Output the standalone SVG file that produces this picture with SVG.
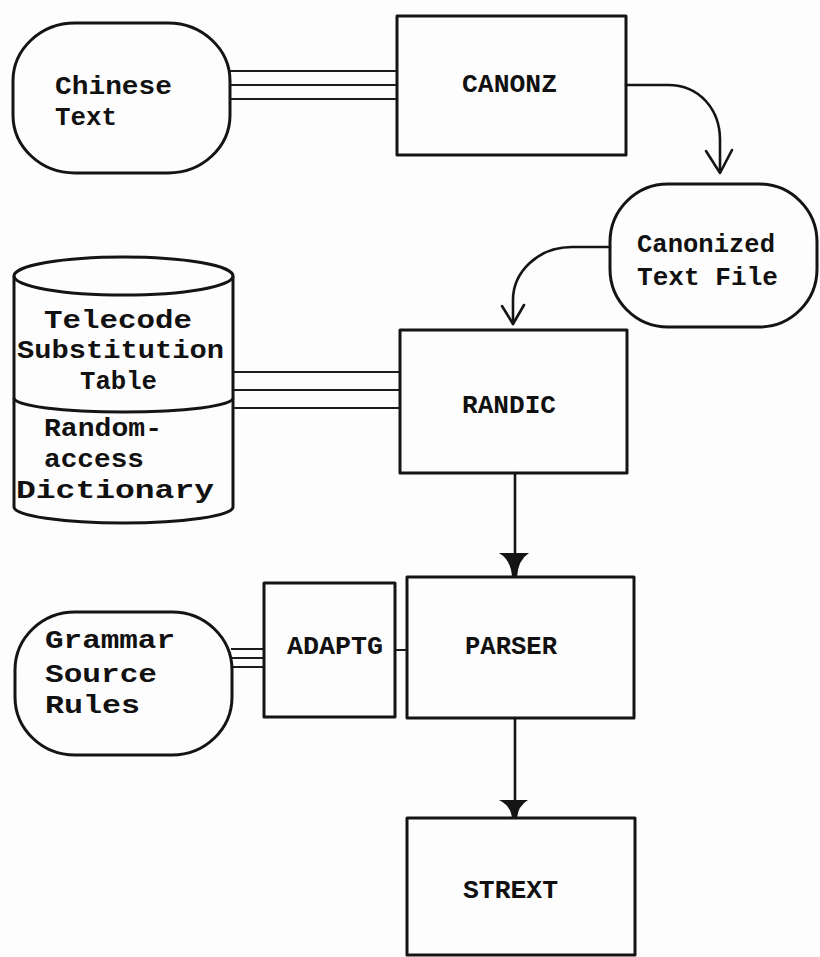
<svg xmlns="http://www.w3.org/2000/svg" width="820" height="957" viewBox="0 0 820 957">
<style>
.bx{fill:none;stroke:#141414;stroke-width:3;stroke-linejoin:round}
.ln{fill:none;stroke:#1c1c1c;stroke-width:2}
.ar{fill:none;stroke:#141414;stroke-width:2.6;stroke-linecap:round;stroke-linejoin:round}
.hd{fill:#141414;stroke:none}
.t{font-family:"Liberation Mono","DejaVu Sans Mono",monospace;font-weight:bold;font-size:26px;fill:#111}
</style>
<rect width="820" height="957" fill="#fdfdfd"/>
<g id="connectors">
  <path class="ln" d="M230,71 H397 M230,85 H397 M230,99 H397"/>
  <path class="ln" d="M233,372 H400 M233,390 H400 M233,408 H400"/>
  <path class="ln" d="M231,649 H264 M231,658 H264 M231,667 H264"/>
  <path class="ln" d="M395,650 H407"/>
  <path class="ar" d="M626,85 L668,85 C700,85 720,110 720,140 L720,172"/>
  <path class="ar" d="M706,151 L720,173 L732,150"/>
  <path class="ar" d="M610,247 L572,247 C538,247 513,272 513,300 L513,324"/>
  <path class="ar" d="M502,306 L513,324 L524,305"/>
  <path class="ar" d="M515,473 V556"/>
  <path class="hd" d="M499,553 L529,553 Q518,560 517,577 L512,577 Q511,560 499,553 Z"/>
  <path class="ar" d="M515,718 V802"/>
  <path class="hd" d="M499,800 L528,800 Q518,806 517,818 L512,818 Q511,806 499,800 Z"/>
</g>
<g id="chinese-text">
  <rect class="bx" x="13" y="23" width="217" height="150" rx="62" ry="58"/>
  <text class="t" x="55" y="94" textLength="117" lengthAdjust="spacingAndGlyphs">Chinese</text>
  <text class="t" x="55" y="125" textLength="62" lengthAdjust="spacingAndGlyphs">Text</text>
</g>
<g id="canonz">
  <rect class="bx" x="397" y="16" width="229" height="139"/>
  <text class="t" x="462" y="92" textLength="95" lengthAdjust="spacingAndGlyphs">CANONZ</text>
</g>
<g id="canonized-text-file">
  <rect class="bx" x="610" y="184" width="207" height="143" rx="58" ry="58"/>
  <text class="t" x="637" y="252" textLength="138" lengthAdjust="spacingAndGlyphs">Canonized</text>
  <text class="t" x="637" y="285" textLength="141" lengthAdjust="spacingAndGlyphs">Text File</text>
</g>
<g id="dictionary">
  <ellipse class="bx" cx="123.5" cy="276" rx="109.5" ry="19"/>
  <path class="bx" d="M14,276 V507 A109.5,16 0 0 0 233,507 V276"/>
  <path class="bx" d="M14,398 A109.5,14 0 0 0 233,398"/>
  <text class="t" x="44" y="328" textLength="148" lengthAdjust="spacingAndGlyphs">Telecode</text>
  <text class="t" x="17" y="358" textLength="207" lengthAdjust="spacingAndGlyphs">Substitution</text>
  <text class="t" x="80" y="389" textLength="77" lengthAdjust="spacingAndGlyphs">Table</text>
  <text class="t" x="44" y="436" textLength="118" lengthAdjust="spacingAndGlyphs">Random-</text>
  <text class="t" x="44" y="467" textLength="100" lengthAdjust="spacingAndGlyphs">access</text>
  <text class="t" x="16" y="498" textLength="198" lengthAdjust="spacingAndGlyphs">Dictionary</text>
</g>
<g id="randic">
  <rect class="bx" x="400" y="330" width="227" height="143"/>
  <text class="t" x="462" y="413" textLength="94" lengthAdjust="spacingAndGlyphs">RANDIC</text>
</g>
<g id="grammar-source-rules">
  <rect class="bx" x="15" y="612" width="217" height="143" rx="60" ry="58"/>
  <text class="t" x="45" y="648" textLength="130" lengthAdjust="spacingAndGlyphs">Grammar</text>
  <text class="t" x="45" y="682" textLength="112" lengthAdjust="spacingAndGlyphs">Source</text>
  <text class="t" x="45" y="713" textLength="95" lengthAdjust="spacingAndGlyphs">Rules</text>
</g>
<g id="adaptg">
  <rect class="bx" x="264" y="583" width="131" height="134"/>
  <text class="t" x="287" y="654" textLength="96" lengthAdjust="spacingAndGlyphs">ADAPTG</text>
</g>
<g id="parser">
  <rect class="bx" x="407" y="577" width="227" height="141"/>
  <text class="t" x="465" y="654" textLength="92" lengthAdjust="spacingAndGlyphs">PARSER</text>
</g>
<g id="strext">
  <rect class="bx" x="407" y="818" width="228" height="137"/>
  <text class="t" x="463" y="898" textLength="95" lengthAdjust="spacingAndGlyphs">STREXT</text>
</g>
</svg>
